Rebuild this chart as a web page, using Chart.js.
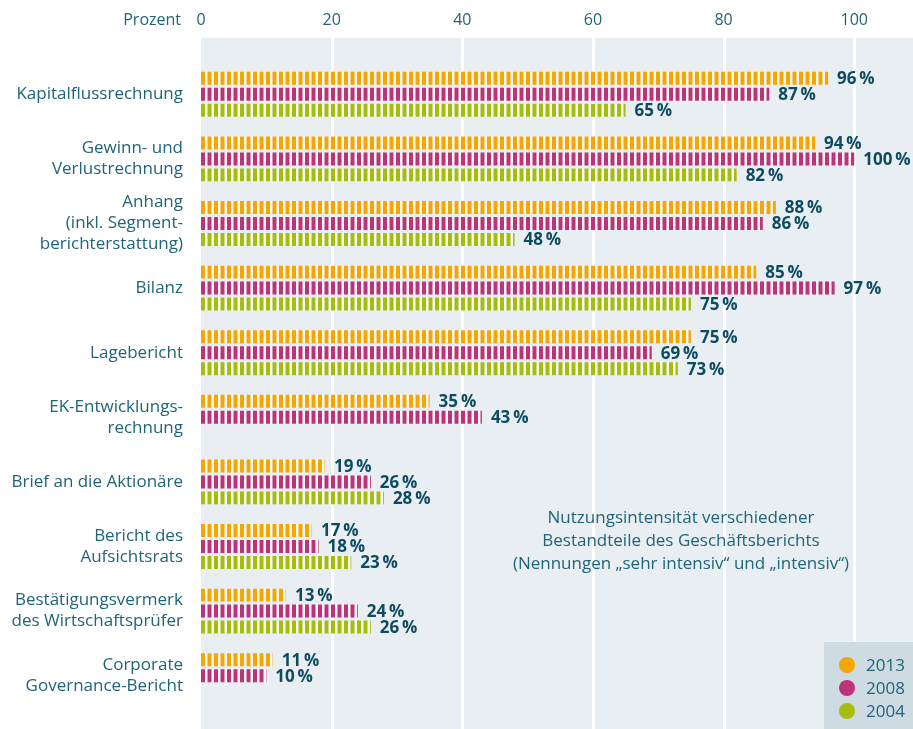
<!DOCTYPE html>
<html>
<head>
<meta charset="utf-8">
<script src="https://cdn.jsdelivr.net/npm/chart.js@4.4.1/dist/chart.umd.min.js"></script>
<style>
  html, body { margin: 0; padding: 0; background: #fff; }
  #wrap { width: 913px; height: 729px; position: relative; }
</style>
</head>
<body>
<div id="wrap"><canvas id="chart" width="913" height="729"></canvas></div>
<script>
// Daten (Werte in Prozent)
const categories = [
  ['Kapitalflussrechnung'],
  ['Gewinn- und', 'Verlustrechnung'],
  ['Anhang', '(inkl. Segment-', 'berichterstattung)'],
  ['Bilanz'],
  ['Lagebericht'],
  ['EK-Entwicklungs-', 'rechnung'],
  ['Brief an die Aktionäre'],
  ['Bericht des', 'Aufsichtsrats'],
  ['Bestätigungsvermerk', 'des Wirtschaftsprüfer'],
  ['Corporate', 'Governance-Bericht']
];
const years = ['2013', '2008', '2004'];
const values2013 = [96, 94, 88, 85, 75, 35, 19, 17, 13, 11];
const values2008 = [87, 100, 86, 97, 69, 43, 26, 18, 24, 10];
const values2004 = [65, 82, 48, 75, 73, null, 28, 23, 26, null];
const xTicks = [0, 20, 40, 60, 80, 100];
const noteLines = [
  'Nutzungsintensität verschiedener',
  'Bestandteile des Geschäftsberichts',
  '(Nennungen \u201Esehr intensiv\u201C und \u201Eintensiv\u201C)'
];

const COLORS = ['#f7a600', '#bd3279', '#a6bd0b'];
const TEXT = '#1f6479';
const TEXT_BOLD = '#0d4c60';
const BG = '#e9eef2';
const FONT = '"Open Sans", "Noto Sans", sans-serif';
const LEFT = 201;

// gestreifte Balken: 1 Streifen pro Prozentpunkt
function stripes(color) {
  const c = document.createElement('canvas');
  c.width = 13; c.height = 4;
  const g = c.getContext('2d');
  g.fillStyle = 'rgba(255,255,255,0.6)';
  g.fillRect(0, 0, 13, 4);
  g.fillStyle = color;
  const off = LEFT % 13;
  [off, off + 6.5].forEach(s => {
    g.fillRect(s % 13, 0, 4, 4);
    if (s % 13 + 4 > 13) g.fillRect(s % 13 - 13, 0, 4, 4);
  });
  return g.createPattern(c, 'repeat');
}

const series = [values2013, values2008, values2004];

const decor = {
  id: 'decor',
  beforeDatasetsDraw(chart) {
    const { ctx, scales: { x } } = chart;
    ctx.save();
    ctx.fillStyle = BG;
    ctx.fillRect(x.left, 38, chart.width - x.left, chart.height - 38);
    ctx.fillStyle = '#fff';
    xTicks.slice(1).forEach(t => {
      const px = Math.round(x.getPixelForValue(t));
      ctx.fillRect(px - 1, 38, 3, chart.height - 38);
    });
    ctx.fillStyle = TEXT;
    ctx.font = '16px ' + FONT;
    ctx.textAlign = 'right';
    ctx.textBaseline = 'middle';
    ctx.fillText('Prozent', 181, 20);
    ctx.restore();
  },
  afterDatasetsDraw(chart) {
    const { ctx } = chart;
    ctx.save();
    ctx.font = 'bold 17px ' + FONT;
    ctx.fillStyle = TEXT_BOLD;
    ctx.textAlign = 'left';
    ctx.textBaseline = 'middle';
    chart.data.datasets.forEach((ds, i) => {
      chart.getDatasetMeta(i).data.forEach((bar, j) => {
        const v = ds.data[j];
        if (v == null) return;
        ctx.fillText(v + '\u2009%', bar.x + 9, bar.y + 1);
      });
    });
    // Anmerkung
    ctx.font = '17px ' + FONT;
    ctx.fillStyle = TEXT;
    ctx.textAlign = 'center';
    noteLines.forEach((l, i) => ctx.fillText(l, 681, 518 + i * 23));
    // Legende
    ctx.fillStyle = '#cedbe2';
    ctx.fillRect(824, 642, chart.width - 824, chart.height - 642);
    ctx.textAlign = 'left';
    chart.data.datasets.forEach((ds, i) => {
      const y = 665 + i * 23;
      ctx.fillStyle = COLORS[i];
      ctx.beginPath();
      ctx.arc(847, y, 8, 0, Math.PI * 2);
      ctx.fill();
      ctx.fillStyle = TEXT;
      ctx.fillText(ds.label, 866, y + 1);
    });
    ctx.restore();
  }
};

new Chart(document.getElementById('chart'), {
  type: 'bar',
  data: {
    labels: categories,
    datasets: years.map((y, i) => ({
      label: y,
      data: series[i],
      backgroundColor: stripes(COLORS[i]),
      categoryPercentage: 0.742,
      barPercentage: 0.8125,
      borderWidth: 0
    }))
  },
  options: {
    indexAxis: 'y',
    responsive: false,
    animation: false,
    devicePixelRatio: 1,
    layout: { padding: { top: 12, bottom: 21, left: 0, right: 0 } },
    plugins: { legend: { display: false }, tooltip: { enabled: false } },
    scales: {
      x: {
        position: 'top',
        min: 0,
        max: 109,
        grid: { display: false, drawTicks: false },
        border: { display: false },
        afterFit: s => { s.height = 50; s.paddingLeft = 0; s.paddingRight = 0; },
        ticks: {
          stepSize: 20,
          padding: 32,
          minRotation: 0,
          maxRotation: 0,
          autoSkip: false,
          color: TEXT,
          font: { family: FONT, size: 16 },
          callback: v => xTicks.includes(v) ? v : ''
        }
      },
      y: {
        grid: { display: false, drawTicks: false },
        border: { display: false },
        afterFit: s => { s.width = LEFT; s.paddingTop = 0; s.paddingBottom = 0; },
        ticks: {
          padding: 18,
          autoSkip: false,
          color: TEXT,
          font: { family: FONT, size: 17, lineHeight: 1.24 }
        }
      }
    }
  },
  plugins: [decor]
});
</script>
</body>
</html>
